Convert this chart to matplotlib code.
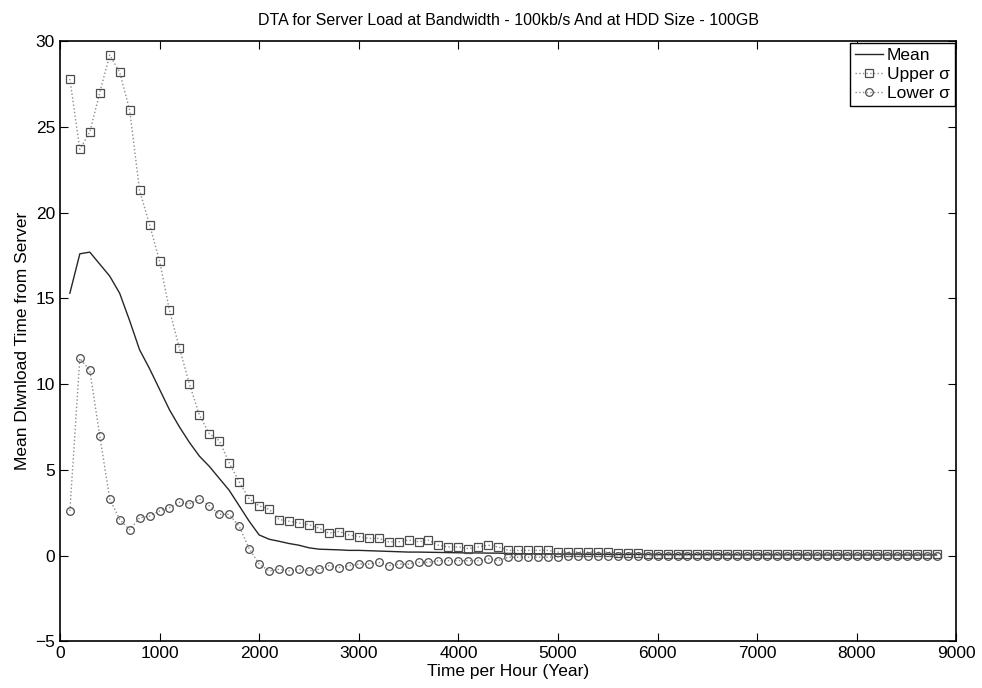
import numpy as np
import matplotlib
matplotlib.use('Agg')
import matplotlib.pyplot as plt

plt.rcParams['font.family'] = ['Liberation Sans', 'DejaVu Sans']

# time axis, one sample per 100 h
t = np.arange(100, 8900, 100)

mean_v = [15.3, 17.6, 17.7, 17.0, 16.3, 15.3, 13.7, 12.0, 10.9, 9.7,
          8.5, 7.5, 6.6, 5.8, 5.2, 4.5, 3.8, 2.9, 2.0, 1.2,
          0.95, 0.83, 0.7, 0.6, 0.45, 0.37, 0.35, 0.33, 0.3, 0.3,
          0.28, 0.26, 0.24, 0.22, 0.2, 0.2, 0.19, 0.18, 0.17, 0.16,
          0.15, 0.15, 0.14, 0.14, 0.12, 0.11, 0.1, 0.1, 0.1, 0.09,
          0.08, 0.08, 0.07, 0.07, 0.07, 0.06, 0.06, 0.06, 0.06, 0.05,
          0.05, 0.05, 0.05, 0.05, 0.05, 0.05, 0.04, 0.04, 0.04, 0.04,
          0.04, 0.04, 0.04, 0.04, 0.03, 0.03, 0.03, 0.03, 0.03, 0.03,
          0.03, 0.03, 0.03, 0.03, 0.03, 0.03, 0.03, 0.03]

upper_v = [27.8, 23.7, 24.7, 27.0, 29.2, 28.2, 26.0, 21.3, 19.3, 17.2,
           14.3, 12.1, 10.0, 8.2, 7.1, 6.7, 5.4, 4.3, 3.3, 2.9,
           2.7, 2.1, 2.0, 1.9, 1.8, 1.6, 1.3, 1.4, 1.2, 1.1,
           1.0, 1.0, 0.8, 0.8, 0.9, 0.8, 0.9, 0.6, 0.5, 0.5,
           0.4, 0.5, 0.6, 0.5, 0.3, 0.3, 0.3, 0.3, 0.3, 0.2,
           0.2, 0.2, 0.2, 0.2, 0.2, 0.15, 0.15, 0.15, 0.1, 0.1,
           0.1, 0.1, 0.1, 0.1, 0.1, 0.1, 0.1, 0.08, 0.08, 0.08,
           0.08, 0.08, 0.08, 0.08, 0.07, 0.07, 0.07, 0.07, 0.07, 0.07,
           0.06, 0.06, 0.06, 0.06, 0.06, 0.06, 0.06, 0.06]

lower_v = [2.6, 11.5, 10.8, 7.0, 3.3, 2.1, 1.5, 2.2, 2.3, 2.6,
           2.8, 3.1, 3.0, 3.3, 2.9, 2.4, 2.4, 1.7, 0.4, -0.5,
           -0.9, -0.8, -0.9, -0.8, -0.9, -0.8, -0.6, -0.7, -0.6, -0.5,
           -0.5, -0.4, -0.6, -0.5, -0.5, -0.4, -0.4, -0.3, -0.3, -0.3,
           -0.3, -0.3, -0.2, -0.3, -0.1, -0.1, -0.1, -0.1, -0.1, -0.1,
           -0.05, -0.05, -0.05, -0.05, -0.04, -0.04, -0.03, -0.03, -0.02, -0.02,
           -0.01, -0.01, 0.0, 0.0, 0.0, 0.0, 0.0, 0.0, 0.0, 0.0,
           0.0, 0.0, 0.0, 0.0, 0.0, 0.0, 0.0, 0.0, 0.0, 0.0,
           0.0, 0.0, 0.0, 0.0, 0.0, 0.0, 0.0, 0.0]

fig = plt.figure(figsize=(9.82, 6.88), dpi=100)
ax = fig.add_axes([0.061, 0.068, 0.913, 0.872])

ax.plot(t, mean_v, '-', color='0.15', lw=1.0, label='Mean')
ax.plot(t, upper_v, ':', color='0.55', lw=1.0, marker='s', ms=5.5,
        mfc='none', mec='0.3', mew=0.9, label='Upper σ')
ax.plot(t, lower_v, ':', color='0.55', lw=1.0, marker='o', ms=5.5,
        mfc='none', mec='0.3', mew=0.9, label='Lower σ')

ax.set_xlim(0, 9000)
ax.set_ylim(-5, 30)
ax.set_xticks(range(0, 9001, 1000))
ax.set_yticks(range(-5, 31, 5))
ax.tick_params(direction='in', top=True, right=True, labelsize=12.5, length=6)
for s in ax.spines.values():
    s.set_linewidth(1.2)

ax.set_title('DTA for Server Load at Bandwidth - 100kb/s And at HDD Size - 100GB',
             fontsize=11.5, pad=12)
ax.set_xlabel('Time per Hour (Year)', fontsize=12.5, labelpad=2)
ax.set_ylabel('Mean Dlwnload Time from Server', fontsize=12.5, labelpad=4)

leg = ax.legend(loc='upper right', fontsize=12.5, handlelength=1.6,
                handletextpad=0.2, borderaxespad=0.1, labelspacing=0.2,
                borderpad=0.3, fancybox=False, framealpha=1)
leg.get_frame().set_edgecolor('black')
leg.get_frame().set_linewidth(1.0)

fig.savefig('out.png', dpi=100)
